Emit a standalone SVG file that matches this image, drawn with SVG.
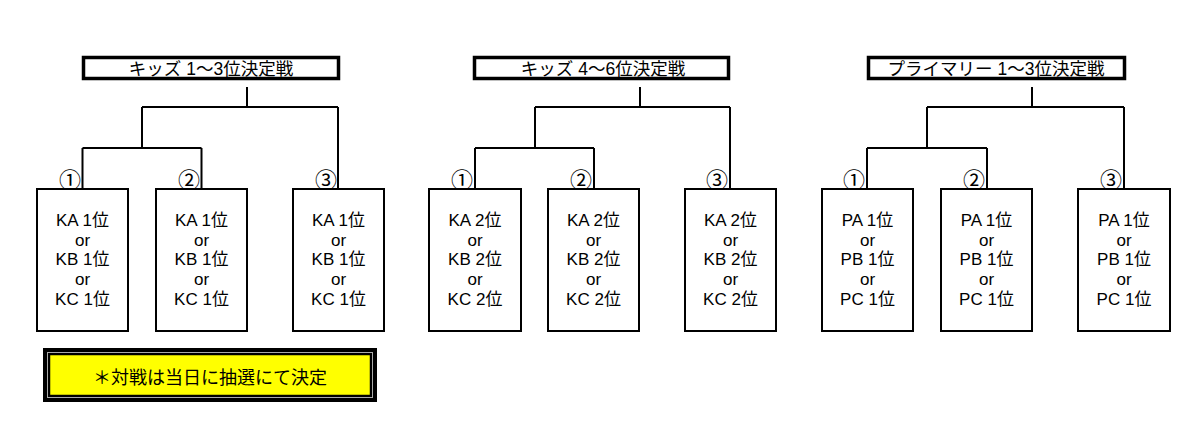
<svg xmlns="http://www.w3.org/2000/svg" width="1200" height="431" viewBox="0 0 1200 431">
<style>
.bg{fill:#fff}
.title{fill:#fff;stroke:#000;stroke-width:3.5}
.box{fill:#fff;stroke:#000;stroke-width:2}
.ln{fill:none;stroke:#000;stroke-width:2}
text{font-family:"Liberation Sans","Noto Sans CJK JP",sans-serif;fill:#000}
.tt{font-size:17.5px;text-anchor:middle}
.bt{font-size:17px;text-anchor:middle}
.num{font-family:"Noto Sans CJK JP",sans-serif;font-size:22px;text-anchor:end}
.note{font-size:18px;text-anchor:middle}
</style>
<rect class="bg" x="0" y="0" width="1200" height="431"/>
<g id="connectors">
<path class="ln" d="M247,87V107M142,107H338M142,107V148M338,107V189M82.5,148H201.5M82.5,148V189M201.5,148V189"/>
<path class="ln" d="M640,87V107M535,107H730M535,107V148M730,107V189M475,148H594M475,148V189M594,148V189"/>
<path class="ln" d="M1032,87V107M927,107H1124M927,107V148M1124,107V189M867,148H987M867,148V189M987,148V189"/>
</g>
<g id="title1"><rect class="title" x="83.5" y="57.5" width="255" height="21"/><text class="tt" x="211" y="75">キッズ 1〜3位決定戦</text></g>
<g id="title2"><rect class="title" x="474.5" y="57.5" width="254" height="21"/><text class="tt" x="603" y="75">キッズ 4〜6位決定戦</text></g>
<g id="title3"><rect class="title" x="868.5" y="57.5" width="256" height="21"/><text class="tt" x="996" y="75">プライマリー 1〜3位決定戦</text></g>

<g id="k1-1"><text class="num" x="81" y="188">①</text><rect class="box" x="37" y="189" width="91" height="142"/><text class="bt" x="82.5" y="226">KA 1位</text><text class="bt" x="82.5" y="245.5">or</text><text class="bt" x="82.5" y="265">KB 1位</text><text class="bt" x="82.5" y="285">or</text><text class="bt" x="82.5" y="305">KC 1位</text></g>
<g id="k1-2"><text class="num" x="200" y="188">②</text><rect class="box" x="156" y="189" width="91" height="142"/><text class="bt" x="201.5" y="226">KA 1位</text><text class="bt" x="201.5" y="245.5">or</text><text class="bt" x="201.5" y="265">KB 1位</text><text class="bt" x="201.5" y="285">or</text><text class="bt" x="201.5" y="305">KC 1位</text></g>
<g id="k1-3"><text class="num" x="337" y="188">③</text><rect class="box" x="293" y="189" width="91" height="142"/><text class="bt" x="338.5" y="226">KA 1位</text><text class="bt" x="338.5" y="245.5">or</text><text class="bt" x="338.5" y="265">KB 1位</text><text class="bt" x="338.5" y="285">or</text><text class="bt" x="338.5" y="305">KC 1位</text></g>

<g id="k2-1"><text class="num" x="473" y="188">①</text><rect class="box" x="429" y="189" width="92" height="142"/><text class="bt" x="475" y="226">KA 2位</text><text class="bt" x="475" y="245.5">or</text><text class="bt" x="475" y="265">KB 2位</text><text class="bt" x="475" y="285">or</text><text class="bt" x="475" y="305">KC 2位</text></g>
<g id="k2-2"><text class="num" x="592" y="188">②</text><rect class="box" x="548" y="189" width="91" height="142"/><text class="bt" x="593.5" y="226">KA 2位</text><text class="bt" x="593.5" y="245.5">or</text><text class="bt" x="593.5" y="265">KB 2位</text><text class="bt" x="593.5" y="285">or</text><text class="bt" x="593.5" y="305">KC 2位</text></g>
<g id="k2-3"><text class="num" x="728" y="188">③</text><rect class="box" x="685" y="189" width="91" height="142"/><text class="bt" x="730.5" y="226">KA 2位</text><text class="bt" x="730.5" y="245.5">or</text><text class="bt" x="730.5" y="265">KB 2位</text><text class="bt" x="730.5" y="285">or</text><text class="bt" x="730.5" y="305">KC 2位</text></g>

<g id="p-1"><text class="num" x="865" y="188">①</text><rect class="box" x="822" y="189" width="91" height="142"/><text class="bt" x="867.5" y="226">PA 1位</text><text class="bt" x="867.5" y="245.5">or</text><text class="bt" x="867.5" y="265">PB 1位</text><text class="bt" x="867.5" y="285">or</text><text class="bt" x="867.5" y="305">PC 1位</text></g>
<g id="p-2"><text class="num" x="985" y="188">②</text><rect class="box" x="941" y="189" width="91" height="142"/><text class="bt" x="986.5" y="226">PA 1位</text><text class="bt" x="986.5" y="245.5">or</text><text class="bt" x="986.5" y="265">PB 1位</text><text class="bt" x="986.5" y="285">or</text><text class="bt" x="986.5" y="305">PC 1位</text></g>
<g id="p-3"><text class="num" x="1122" y="188">③</text><rect class="box" x="1078" y="189" width="92" height="142"/><text class="bt" x="1124" y="226">PA 1位</text><text class="bt" x="1124" y="245.5">or</text><text class="bt" x="1124" y="265">PB 1位</text><text class="bt" x="1124" y="285">or</text><text class="bt" x="1124" y="305">PC 1位</text></g>

<g id="note">
<rect x="43" y="348" width="334" height="54" fill="#000"/>
<rect x="47.5" y="352.5" width="325" height="45" fill="none" stroke="#aaa" stroke-width="1"/>
<rect x="49.5" y="354.5" width="321" height="41" fill="#ffff00" stroke="#000" stroke-width="1.5"/>
<text class="note" x="210" y="384">＊対戦は当日に抽選にて決定</text>
</g>
</svg>
